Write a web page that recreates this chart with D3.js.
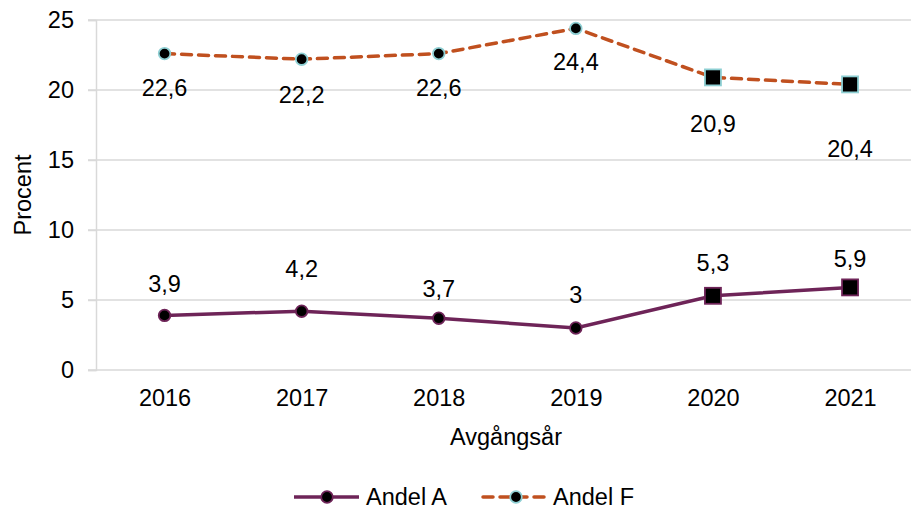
<!DOCTYPE html>
<html>
<head>
<meta charset="utf-8">
<script src="https://cdn.jsdelivr.net/npm/d3@7"></script>
<style>
  body { margin: 0; background: #fff; }
  svg { display: block; font-family: "Liberation Sans", Arial, sans-serif; }
</style>
</head>
<body>
<svg id="chart"></svg>
<script>
const years = ['2016', '2017', '2018', '2019', '2020', '2021']
const andelA = [3.9, 4.2, 3.7, 3.0, 5.3, 5.9]
const andelF = [22.6, 22.2, 22.6, 24.4, 20.9, 20.4]
const labelsA = ['3,9', '4,2', '3,7', '3', '5,3', '5,9']
const labelsF = ['22,6', '22,2', '22,6', '24,4', '20,9', '20,4']
const yTicks = [0, 5, 10, 15, 20, 25]

// label offsets (px) as the data labels were placed by hand in the original
const dyA = [-32, -42, -29, -33, -33, -29]
const dyF = [34, 36, 34, 33, 46, 64]

const width = 911
const height = 515
const margin = { top: 20, left: 96, bottom: 145 }
const fs = 23.5

const colA = '#6e2458'
const colF = '#c0501f'
const ringF = '#8ecfd3'

const svg = d3.select('#chart').attr('width', width).attr('height', height)

const x = d3.scalePoint()
    .domain(years)
    .range([96, 918.6])
    .padding(0.5)

const y = d3.scaleLinear()
    .domain([0, 25])
    .range([height - margin.bottom, margin.top])

// gridlines
svg.append('g')
    .selectAll('line')
    .data(yTicks)
    .enter()
    .append('line')
    .attr('x1', 88)
    .attr('x2', width)
    .attr('y1', d => y(d))
    .attr('y2', d => y(d))
    .attr('stroke', '#d9d9d9')
    .attr('stroke-width', 1.5)

// y axis
const yAxis = svg.append('g')
    .attr('transform', `translate(${margin.left},0)`)
    .call(d3.axisLeft(y).tickValues(yTicks).tickSize(8).tickPadding(14))
yAxis.select('.domain').attr('stroke', '#d9d9d9').attr('stroke-width', 1.5)
yAxis.selectAll('.tick line').attr('stroke', '#d9d9d9').attr('stroke-width', 1.5)
yAxis.selectAll('.tick text')
    .attr('font-size', fs)
    .attr('font-family', '"Liberation Sans", Arial, sans-serif')
    .attr('fill', '#000')

// x axis labels
const xAxis = svg.append('g')
    .attr('transform', `translate(0,${y(0)})`)
    .call(d3.axisBottom(x).tickSize(0).tickPadding(19))
xAxis.select('.domain').remove()
xAxis.selectAll('.tick text')
    .attr('font-size', fs)
    .attr('font-family', '"Liberation Sans", Arial, sans-serif')
    .attr('fill', '#000')

// axis titles
svg.append('text')
    .attr('x', 506)
    .attr('y', 445)
    .attr('text-anchor', 'middle')
    .attr('font-size', fs)
    .text('Avgångsår')

svg.append('text')
    .attr('transform', 'translate(31,195) rotate(-90)')
    .attr('text-anchor', 'middle')
    .attr('font-size', fs)
    .text('Procent')

const line = d3.line()
    .x((d, i) => x(years[i]))
    .y(d => y(d))

// series F (dashed)
svg.append('path')
    .datum(andelF)
    .attr('fill', 'none')
    .attr('stroke', colF)
    .attr('stroke-width', 3.5)
    .attr('stroke-dasharray', '10,7')
    .attr('stroke-linecap', 'round')
    .attr('d', line)

// series A
svg.append('path')
    .datum(andelA)
    .attr('fill', 'none')
    .attr('stroke', colA)
    .attr('stroke-width', 3.5)
    .attr('d', line)

function markers(data, stroke) {
    const g = svg.append('g')
    data.forEach((v, i) => {
        const cx = x(years[i])
        const cy = y(v)
        if (i >= 4) {
            g.append('rect')
                .attr('x', cx - 8)
                .attr('y', cy - 8)
                .attr('width', 16)
                .attr('height', 16)
                .attr('fill', '#000')
                .attr('stroke', stroke)
                .attr('stroke-width', 1.8)
        } else {
            g.append('circle')
                .attr('cx', cx)
                .attr('cy', cy)
                .attr('r', 5.8)
                .attr('fill', '#000')
                .attr('stroke', stroke)
                .attr('stroke-width', 1.8)
        }
    })
}
markers(andelF, ringF)
markers(andelA, colA)

function labels(data, texts, dy) {
    svg.append('g')
        .selectAll('text')
        .data(data)
        .enter()
        .append('text')
        .attr('x', (d, i) => x(years[i]))
        .attr('y', (d, i) => y(d) + dy[i])
        .attr('dy', '0.35em')
        .attr('text-anchor', 'middle')
        .attr('font-size', fs)
        .text((d, i) => texts[i])
}
labels(andelA, labelsA, dyA)
labels(andelF, labelsF, dyF)

// legend
const leg = svg.append('g').attr('transform', 'translate(0,497)')
leg.append('line')
    .attr('x1', 294).attr('x2', 359).attr('y1', 0).attr('y2', 0)
    .attr('stroke', colA).attr('stroke-width', 3.5)
leg.append('circle')
    .attr('cx', 327).attr('cy', 0).attr('r', 5.8)
    .attr('fill', '#000').attr('stroke', colA).attr('stroke-width', 1.8)
leg.append('text')
    .attr('x', 366).attr('y', 0).attr('dy', '0.35em')
    .attr('font-size', fs).text('Andel A')

leg.append('line')
    .attr('x1', 483).attr('x2', 546).attr('y1', 0).attr('y2', 0)
    .attr('stroke', colF).attr('stroke-width', 3.5)
    .attr('stroke-dasharray', '10,7').attr('stroke-linecap', 'round')
leg.append('circle')
    .attr('cx', 516).attr('cy', 0).attr('r', 5.8)
    .attr('fill', '#000').attr('stroke', ringF).attr('stroke-width', 1.8)
leg.append('text')
    .attr('x', 553).attr('y', 0).attr('dy', '0.35em')
    .attr('font-size', fs).text('Andel F')
</script>
</body>
</html>
